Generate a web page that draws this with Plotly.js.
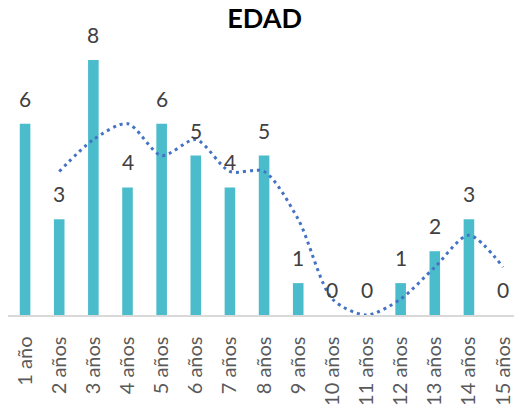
<!DOCTYPE html>
<html>
<head>
<meta charset="utf-8">
<script src="https://cdn.plot.ly/plotly-3.0.1.min.js"></script>
<style>html,body{margin:0;padding:0;background:#fff;}#chart{width:514px;height:409px;}</style>
</head>
<body>
<div id="chart"></div>
<script>
const categories = ["1 año","2 años","3 años","4 años","5 años","6 años","7 años","8 años","9 años","10 años","11 años","12 años","13 años","14 años","15 años"];
const counts = [6,3,8,4,6,5,4,5,1,0,0,1,2,3,0];
const trendCategories = categories.slice(1);
const trendValues = [4.5,5.5,6,5,5.5,4.5,4.5,3,0.5,0,0.5,1.5,2.5,1.5];

const bars = {
  type: 'bar', x: categories, y: counts, width: 0.31,
  marker: {color: '#4BBCCB', line: {width: 0}},
  hoverinfo: 'skip', showlegend: false
};
const trend = {
  type: 'scatter', mode: 'lines', x: trendCategories, y: trendValues,
  line: {color: '#4472C4', width: 3, dash: '3px,4px', shape: 'spline', smoothing: 0.8},
  hoverinfo: 'skip', showlegend: false
};
const annotations = categories.map((c, i) => ({
  x: c, y: counts[i], xref: 'x', yref: 'y', text: String(counts[i]),
  showarrow: false, yanchor: 'bottom', yshift: 11,
  font: {family: 'Lato, sans-serif', size: 21, color: '#404040'}
}));

const layout = {
  width: 514, height: 409,
  margin: {l: 8, r: 0, t: 27.5, b: 93.5},
  paper_bgcolor: '#fff', plot_bgcolor: '#fff',
  title: {text: '<b>EDAD</b>', x: 0.515, xanchor: 'center', y: 0.955, yanchor: 'middle',
          font: {family: 'Lato, sans-serif', size: 27, color: '#000'}},
  xaxis: {type: 'category', range: [-0.5, 14.32], showgrid: false, zeroline: false,
          showline: true, linecolor: '#D9D9D9', linewidth: 1.5, ticks: '',
          tickangle: -90, ticklabelstandoff: 12,
          tickfont: {family: 'Lato, sans-serif', size: 20, color: '#595959'}},
  yaxis: {range: [0, 9], showgrid: false, zeroline: false, showline: false,
          showticklabels: false, ticks: ''},
  annotations: annotations,
  bargap: 0.69
};
Plotly.newPlot('chart', [bars, trend], layout, {staticPlot: true, displayModeBar: false});
</script>
</body>
</html>
